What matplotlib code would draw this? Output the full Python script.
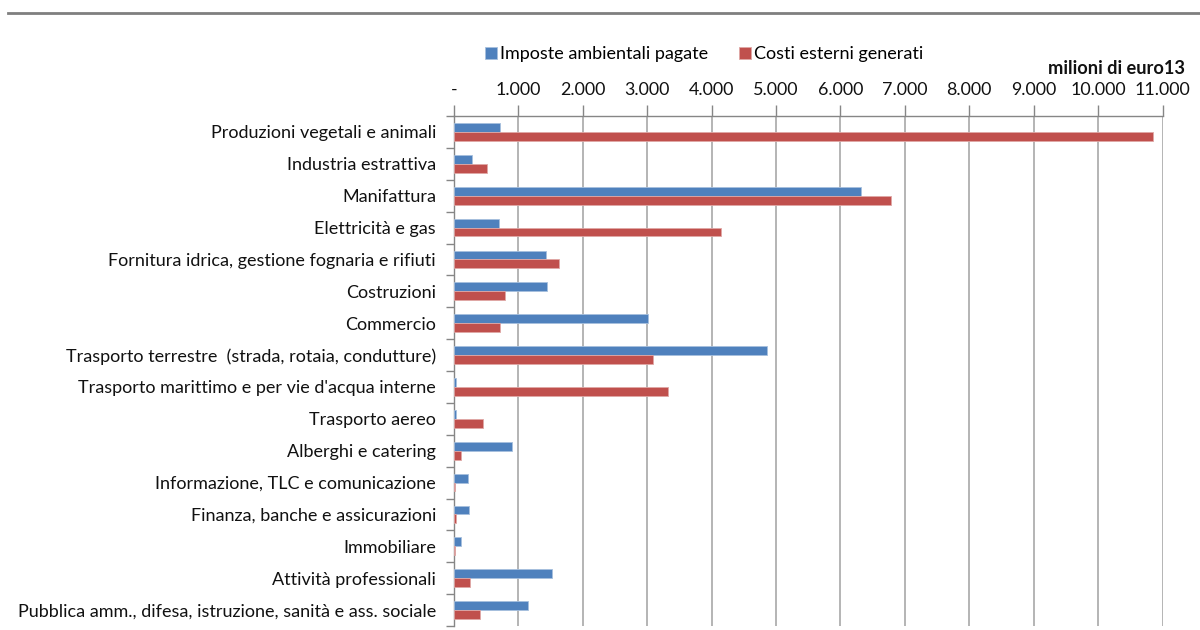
import numpy as np
import matplotlib
matplotlib.use("Agg")
from matplotlib import pyplot as plt
from matplotlib.lines import Line2D
from matplotlib.ticker import FixedLocator, FuncFormatter

plt.rcParams['font.family'] = ['Lato', 'DejaVu Sans']

settori = [
    "Produzioni vegetali e animali",
    "Industria estrattiva",
    "Manifattura",
    "Elettricità e gas",
    "Fornitura idrica, gestione fognaria e rifiuti",
    "Costruzioni",
    "Commercio",
    "Trasporto terrestre  (strada, rotaia, condutture)",
    "Trasporto marittimo e per vie d'acqua interne",
    "Trasporto aereo",
    "Alberghi e catering",
    "Informazione, TLC e comunicazione",
    "Finanza, banche e assicurazioni",
    "Immobiliare",
    "Attività professionali",
    "Pubblica amm., difesa, istruzione, sanità e ass. sociale",
]
imposte = [720, 274, 6325, 704, 1423, 1449, 3007, 4860, 36, 36, 895, 223, 238, 104, 1527, 1154]
costi = [10850, 507, 6781, 4151, 1636, 792, 720, 3095, 3328, 450, 104, 21, 36, 21, 248, 409]
xticks = list(range(0, 11001, 1000))
serie = ["Imposte ambientali pagate", "Costi esterni generati"]

def fmt_migliaia(v, pos):
    if v == 0:
        return "-"
    return f"{int(v):,}".replace(",", ".")

BLU = "#4F81BD"
ROSSO = "#C0504D"
GRIGIO = "#868686"
DPI = 100

fig = plt.figure(figsize=(12, 6.3), dpi=DPI)
renderer = fig.canvas.get_renderer()

# dimensione del carattere che dà a una stringa la larghezza voluta (pixel)
def taglia(stringa, larghezza, **kw):
    t = fig.text(0, 0, stringa, fontsize=20, **kw)
    w = t.get_window_extent(renderer).width
    t.remove()
    return 20 * larghezza / w

size_cat = taglia(settori[-1], 417)
size_tick = taglia("11.000", 56)
size_leg = taglia(serie[0], 208)
size_unita = taglia("milioni di euro13", 137, fontweight="bold")

ax = fig.add_axes([454 / 1200, 1 - 626 / 630, (1162.5 - 454) / 1200, 510 / 630])

y = np.arange(len(settori))
h = 0.28
ax.barh(y - h / 2, imposte, height=h, color=BLU, edgecolor="#A7C0DE", linewidth=0.6,
        label=serie[0], zorder=3)
ax.barh(y + h / 2, costi, height=h, color=ROSSO, edgecolor="#DFA8A6", linewidth=0.6,
        label=serie[1], zorder=3)

ax.set_xlim(0, 11000)
ax.set_ylim(len(settori) - 0.5, -0.5)

# asse dei valori in alto
ax.xaxis.tick_top()
ax.xaxis.set_major_locator(FixedLocator(xticks))
ax.xaxis.set_major_formatter(FuncFormatter(fmt_migliaia))
ax.tick_params(axis="x", length=8, width=1, color=GRIGIO, pad=5, labelsize=size_tick,
               labelcolor="#111111")
ax.grid(axis="x", color="#AFAFAF", linewidth=1.3, zorder=0)

# etichette dei settori al centro, tacche ai bordi delle categorie
ax.set_yticks(y)
ax.set_yticklabels(settori)
ax.yaxis.set_minor_locator(FixedLocator(np.arange(-0.5, len(settori), 1.0)))
ax.tick_params(axis="y", which="major", length=0, pad=13, labelsize=size_cat,
               labelcolor="#111111")
ax.tick_params(axis="y", which="minor", length=6, width=1, color=GRIGIO)

for lato in ["right", "bottom"]:
    ax.spines[lato].set_visible(False)
for lato in ["left", "top"]:
    ax.spines[lato].set_color(GRIGIO)
    ax.spines[lato].set_linewidth(1)

# legenda: quadratini di 12 px, spazi espressi in pixel
em = size_leg * DPI / 72
fig.legend(loc="center", bbox_to_anchor=(704 / 1200, 1 - 54 / 630), ncol=2,
           frameon=False, fontsize=size_leg, handlelength=12 / em, handleheight=12 / em,
           handletextpad=3 / em, columnspacing=31 / em, borderpad=0, borderaxespad=0)

fig.text(1185 / 1200, 1 - 69 / 630, "milioni di euro13", ha="right", va="center",
         fontsize=size_unita, fontweight="bold", color="#111111")

fig.add_artist(Line2D([8 / 1200, 1.0], [1 - 13 / 630, 1 - 13 / 630],
                      color="#7F7F7F", linewidth=2))

fig.savefig("out.png", dpi=DPI)
